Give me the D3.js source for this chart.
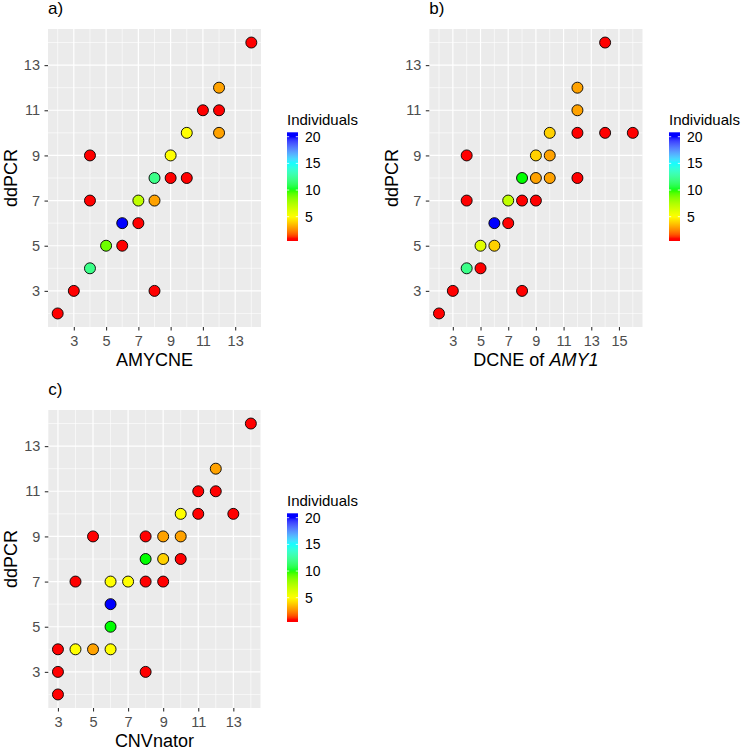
<!DOCTYPE html>
<html>
<head>
<meta charset="utf-8">
<script src="https://cdn.jsdelivr.net/npm/d3@7"></script>
<style>
  body { margin: 0; background: #ffffff; }
  svg { display: block; font-family: "Liberation Sans", Arial, Helvetica, sans-serif; }
</style>
</head>
<body>
<svg id="chart" width="741" height="750"></svg>
<script>
// ---------------- DATA ----------------
// Panel a) AMYCNE vs ddPCR
const amycneX = [2, 3, 4, 5, 6, 6, 7, 7, 8, 8, 9, 10, 9, 10, 11, 12, 12, 12, 14, 4, 4, 8];
const amycneY = [2, 3, 4, 5, 5, 6, 6, 7, 7, 8, 8, 8, 9, 10, 11, 11, 12, 10, 14, 9, 7, 3];
const amycneN = [1, 1, 12, 9, 1, 20, 1, 7, 3, 12, 1, 1, 5, 5, 1, 1, 3, 3, 1, 1, 1, 1];

// Panel b) DCNE of AMY1 vs ddPCR
const dcneX = [2, 3, 4, 5, 5, 6, 6, 7, 7, 8, 9, 8, 9, 10, 9, 10, 10, 12, 12, 14, 16, 12, 12, 14, 4, 4, 8];
const dcneY = [2, 3, 4, 4, 5, 5, 6, 6, 7, 7, 7, 8, 8, 8, 9, 9, 10, 8, 10, 10, 10, 11, 12, 14, 9, 7, 3];
const dcneN = [1, 1, 12, 1, 6, 4, 20, 1, 7, 1, 1, 10, 3, 3, 4, 3, 4, 1, 1, 1, 1, 3, 3, 1, 1, 1, 1];

// Panel c) CNVnator vs ddPCR
const cnvX = [3, 3, 3, 4, 5, 6, 6, 6, 6, 7, 8, 9, 4, 5, 8, 9, 10, 8, 9, 10, 10, 11, 13, 11, 12, 12, 14, 8];
const cnvY = [2, 3, 4, 4, 4, 4, 5, 6, 7, 7, 7, 7, 7, 9, 8, 8, 8, 9, 9, 9, 10, 10, 10, 11, 11, 12, 14, 3];
const cnvN = [1, 1, 1, 5, 3, 5, 10, 20, 5, 5, 1, 1, 1, 1, 10, 4, 1, 1, 3, 3, 5, 1, 1, 1, 1, 3, 1, 1];

// Tick labels
const xTicksA = [3, 5, 7, 9, 11, 13];
const xTicksB = [3, 5, 7, 9, 11, 13, 15];
const xTicksC = [3, 5, 7, 9, 11, 13];
const yTicks = [3, 5, 7, 9, 11, 13];
const legendTicks = [5, 10, 15, 20];
const colourLimits = [1, 20];
const colourValues = [1, 5, 10, 15, 20];
const colourNames = ["#FF0000", "#FFFF00", "#00FF00", "#00FFFF", "#0000FF"];

// ---------------- DRAWING ----------------
const svg = d3.select("#chart");
const defs = svg.append("defs");

const colour = d3.scaleLinear().domain(colourValues).range(colourNames)
  .interpolate(d3.interpolateLab).clamp(true);

function expand(ext) {
  const pad = (ext[1] - ext[0]) * 0.05;
  return [ext[0] - pad, ext[1] + pad];
}

const panels = [
  { id: "a", tag: "a)", xs: amycneX, ys: amycneY, ns: amycneN, xTicks: xTicksA,
    left: 48, top: 29, width: 213, height: 298, yTitleX: 16.7, legendX: 287,
    xTitle: [{ t: "AMYCNE", it: false }] },
  { id: "b", tag: "b)", xs: dcneX, ys: dcneY, ns: dcneN, xTicks: xTicksB,
    left: 429.3, top: 29, width: 213.2, height: 298, yTitleX: 398, legendX: 669,
    xTitle: [{ t: "DCNE of ", it: false }, { t: "AMY1", it: true }] },
  { id: "c", tag: "c)", xs: cnvX, ys: cnvY, ns: cnvN, xTicks: xTicksC,
    left: 48.3, top: 410, width: 212.2, height: 298, yTitleX: 16.7, legendX: 287,
    xTitle: [{ t: "CNVnator", it: false }] }
];

panels.forEach(p => {
  const x = d3.scaleLinear().domain(expand(d3.extent(p.xs))).range([p.left, p.left + p.width]);
  const y = d3.scaleLinear().domain(expand(d3.extent(p.ys))).range([p.top + p.height, p.top]);

  const g = svg.append("g");

  // panel background
  g.append("rect")
    .attr("x", p.left).attr("y", p.top)
    .attr("width", p.width).attr("height", p.height)
    .attr("fill", "#EBEBEB");

  // minor grid (midpoints between majors)
  const step = 2;
  const minorX = d3.range(Math.ceil(x.domain()[0]), x.domain()[1] + 0.001)
    .filter(v => (v - p.xTicks[0]) % step !== 0);
  const minorY = d3.range(Math.ceil(y.domain()[0]), y.domain()[1] + 0.001)
    .filter(v => (v - yTicks[0]) % step !== 0);

  g.selectAll(".minx").data(minorX).join("line")
    .attr("x1", d => x(d)).attr("x2", d => x(d))
    .attr("y1", p.top).attr("y2", p.top + p.height)
    .attr("stroke", "#FFFFFF").attr("stroke-width", 0.6);
  g.selectAll(".miny").data(minorY).join("line")
    .attr("y1", d => y(d)).attr("y2", d => y(d))
    .attr("x1", p.left).attr("x2", p.left + p.width)
    .attr("stroke", "#FFFFFF").attr("stroke-width", 0.6);

  // major grid
  g.selectAll(".majx").data(p.xTicks).join("line")
    .attr("x1", d => x(d)).attr("x2", d => x(d))
    .attr("y1", p.top).attr("y2", p.top + p.height)
    .attr("stroke", "#FFFFFF").attr("stroke-width", 1.2);
  g.selectAll(".majy").data(yTicks).join("line")
    .attr("y1", d => y(d)).attr("y2", d => y(d))
    .attr("x1", p.left).attr("x2", p.left + p.width)
    .attr("stroke", "#FFFFFF").attr("stroke-width", 1.2);

  // axes
  const xAxis = g.append("g")
    .attr("transform", `translate(0,${p.top + p.height})`)
    .call(d3.axisBottom(x).tickValues(p.xTicks).tickSize(3.5).tickPadding(5.2).tickSizeOuter(0));
  const yAxis = g.append("g")
    .attr("transform", `translate(${p.left},0)`)
    .call(d3.axisLeft(y).tickValues(yTicks).tickSize(3.5).tickPadding(4.5).tickSizeOuter(0));
  [xAxis, yAxis].forEach(a => {
    a.select(".domain").remove();
    a.selectAll(".tick line").attr("stroke", "#333333").attr("stroke-width", 1.1);
    a.selectAll(".tick text").attr("fill", "#4D4D4D")
      .style("font-size", "14.5px")
      .style("font-family", '"Liberation Sans", Arial, sans-serif');
  });

  // points
  const pts = p.xs.map((v, i) => ({ x: v, y: p.ys[i], n: p.ns[i] }));
  g.selectAll(".pt").data(pts).join("circle")
    .attr("cx", d => x(d.x)).attr("cy", d => y(d.y))
    .attr("r", 5.5)
    .attr("fill", d => colour(d.n))
    .attr("stroke", "#000000").attr("stroke-width", 0.9);

  // tag
  g.append("text")
    .attr("x", p.left).attr("y", p.top - 15)
    .style("font-size", "17px").attr("fill", "#000")
    .text(p.tag);

  // x title
  const xt = g.append("text")
    .attr("x", p.left + p.width / 2).attr("y", p.top + p.height + 38.5)
    .attr("text-anchor", "middle")
    .style("font-size", "18px").attr("fill", "#000");
  p.xTitle.forEach(s => {
    xt.append("tspan").text(s.t).style("font-style", s.it ? "italic" : "normal");
  });

  // y title
  g.append("text")
    .attr("transform", `translate(${p.yTitleX},${p.top + p.height / 2}) rotate(-90)`)
    .attr("text-anchor", "middle")
    .style("font-size", "18px").attr("fill", "#000")
    .text("ddPCR");

  // legend (colourbar)
  const off = p.top - 29;
  const barTop = 132.3 + off, barBottom = 241 + off;
  const barW = 11;
  const ly = d3.scaleLinear().domain([5, 20]).range([216.7 + off, 136.7 + off]);

  g.append("text")
    .attr("x", p.legendX).attr("y", 125 + off)
    .style("font-size", "15px").attr("fill", "#000")
    .text("Individuals");

  const gradId = "grad-" + p.id;
  const grad = defs.append("linearGradient")
    .attr("id", gradId)
    .attr("x1", 0).attr("y1", 1).attr("x2", 0).attr("y2", 0);
  const vLo = ly.invert(barBottom), vHi = ly.invert(barTop);
  d3.range(0, 1.0001, 0.02).forEach(t => {
    grad.append("stop")
      .attr("offset", t)
      .attr("stop-color", colour(vLo + (vHi - vLo) * t));
  });
  g.append("rect")
    .attr("x", p.legendX).attr("y", barTop)
    .attr("width", barW).attr("height", barBottom - barTop)
    .attr("fill", `url(#${gradId})`);

  // white ticks on the bar
  legendTicks.forEach(v => {
    g.append("line")
      .attr("x1", p.legendX).attr("x2", p.legendX + barW / 5)
      .attr("y1", ly(v)).attr("y2", ly(v))
      .attr("stroke", "#FFFFFF").attr("stroke-width", 0.8);
    g.append("line")
      .attr("x1", p.legendX + barW - barW / 5).attr("x2", p.legendX + barW)
      .attr("y1", ly(v)).attr("y2", ly(v))
      .attr("stroke", "#FFFFFF").attr("stroke-width", 0.8);
  });

  g.selectAll(".ll").data(legendTicks).join("text")
    .attr("x", p.legendX + 18).attr("y", d => ly(d))
    .attr("dy", "0.36em")
    .style("font-size", "14px").attr("fill", "#000")
    .text(d => d);
});
</script>
</body>
</html>
